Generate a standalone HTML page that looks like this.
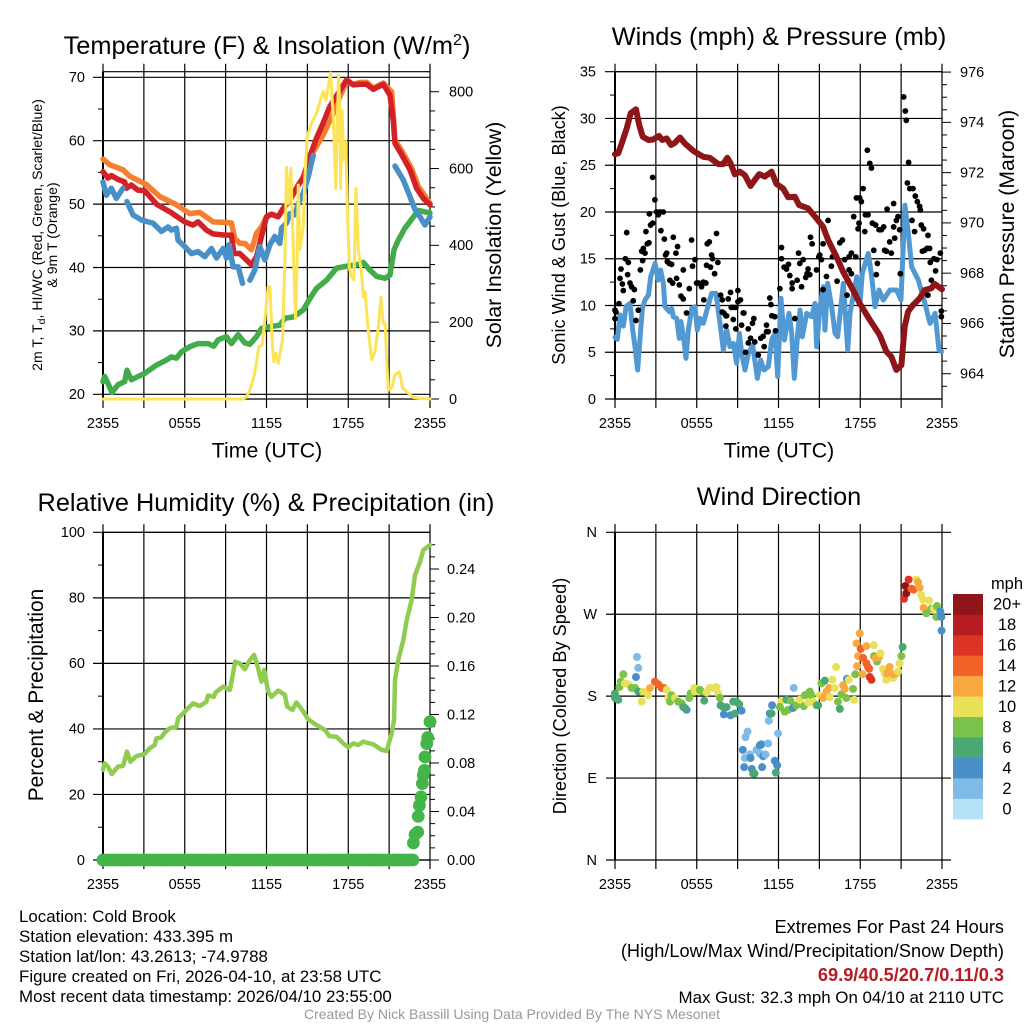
<!DOCTYPE html>
<html lang="en">
<head>
<meta charset="utf-8">
<title>Cold Brook Station Meteogram</title>
<style>
html,body{margin:0;padding:0;background:#fff;width:1024px;height:1024px;overflow:hidden}
svg{display:block;font-family:"Liberation Sans",Arial,sans-serif}
</style>
</head>
<body>
<svg id="chart" xmlns="http://www.w3.org/2000/svg" width="1024" height="1024" viewBox="0 0 1024 1024">
<rect width="1024" height="1024" fill="#fff"/>
<g id="marks"></g>

<text x="267" y="54" font-size="25.4" text-anchor="middle">Temperature (F) &amp; Insolation (W/m<tspan dy="-9" font-size="16">2</tspan><tspan dy="9">)</tspan></text>
<text x="779" y="45" font-size="25.3" text-anchor="middle">Winds (mph) &amp; Pressure (mb)</text>
<text x="266" y="511" font-size="25.3" text-anchor="middle">Relative Humidity (%) &amp; Precipitation (in)</text>
<text x="779" y="505" font-size="25.3" text-anchor="middle">Wind Direction</text>

<text x="267" y="457.5" font-size="21.3" text-anchor="middle">Time (UTC)</text>
<text x="779" y="457.5" font-size="21.3" text-anchor="middle">Time (UTC)</text>

<text transform="translate(42,235) rotate(-90)" font-size="14.1" text-anchor="middle">2m T, T<tspan dy="3" font-size="10.5">d</tspan><tspan dy="-3">, HI/WC (Red, Green, Scarlet/Blue)</tspan></text>
<text transform="translate(57,235) rotate(-90)" font-size="14.1" text-anchor="middle">&amp; 9m T (Orange)</text>
<text transform="translate(501,235) rotate(-90)" font-size="21.2" text-anchor="middle">Solar Insolation (Yellow)</text>
<text transform="translate(565,235) rotate(-90)" font-size="18.1" text-anchor="middle">Sonic Wind &amp; Gust (Blue, Black)</text>
<text transform="translate(1014,234) rotate(-90)" font-size="21.2" text-anchor="middle">Station Pressure (Maroon)</text>
<text transform="translate(43,695) rotate(-90)" font-size="20.9" text-anchor="middle">Percent &amp; Precipitation</text>
<text transform="translate(566,696) rotate(-90)" font-size="18.2" text-anchor="middle">Direction (Colored By Speed)</text>

<text x="1007" y="589" font-size="16.5" text-anchor="middle">mph</text>

<g font-size="16.9">
<text x="19" y="922">Location: Cold Brook</text>
<text x="19" y="942">Station elevation: 433.395 m</text>
<text x="19" y="962">Station lat/lon: 43.2613; -74.9788</text>
<text x="19" y="982">Figure created on Fri, 2026-04-10, at 23:58 UTC</text>
<text x="19" y="1002">Most recent data timestamp: 2026/04/10 23:55:00</text>
</g>
<g text-anchor="end">
<text x="1004" y="933" font-size="18.2">Extremes For Past 24 Hours</text>
<text x="1004" y="957" font-size="18.2">(High/Low/Max Wind/Precipitation/Snow Depth)</text>
<text x="1004" y="981" font-size="18.2" font-weight="bold" fill="#b71c22">69.9/40.5/20.7/0.11/0.3</text>
<text x="1004" y="1003" font-size="16.9">Max Gust: 32.3 mph On 04/10 at 2110 UTC</text>
</g>
<text x="512" y="1019" font-size="14" fill="#999" text-anchor="middle">Created By Nick Bassill Using Data Provided By The NYS Mesonet</text>
</svg>

<script>
// ---- Tick data ----
const timeTickHours = [0,3,6,9,12,15,18,21,24];
const timeTickLabels = ['2355','','0555','','1155','','1755','','2355'];
const tempTicks = [20,30,40,50,60,70];
const tempMinorTicks = [25,35,45,55,65];
const solarTicks = [0,200,400,600,800];
const solarMinorTicks = [50,100,150,250,300,350,450,500,550,650,700,750];
const windTicks = [0,5,10,15,20,25,30,35];
const windMinorTicks = [2.5,7.5,12.5,17.5,22.5,27.5,32.5];
const pressureTicks = [964,966,968,970,972,974,976];
const pressureMinorTicks = [963.5,964.5,965,965.5,966.5,967,967.5,968.5,969,969.5,970.5,971,971.5,972.5,973,973.5,974.5,975,975.5];
const rhTicks = [0,20,40,60,80,100];
const rhMinorTicks = [10,30,50,70,90];
const precipTicks = [0,0.04,0.08,0.12,0.16,0.2,0.24];
const precipMinorTicks = [0.01,0.02,0.03,0.05,0.06,0.07,0.09,0.1,0.11,0.13,0.14,0.15,0.17,0.18,0.19,0.21,0.22,0.23,0.25,0.26];
const dirTicks = [0,90,180,270,360];
const dirLabels = ['N','E','S','W','N'];
const speedLevels = ['0','2','4','6','8','10','12','14','16','18','20+'];
const speedColors = ['#b5e2f9','#7fbbe6','#4a90c8','#4aa874','#7ac24a','#e8e057','#f9a940','#f26329','#dc3325','#b71c22','#8f1518'];

// ---- Temperature panel ----
const orangeHours = [0,.49,1.47,1.96,3.18,4.16,5.39,6.37,7.1,8.08,9.06,9.43,9.67,10.04,10.41,10.9,11.27,11.63,12,12.37,12.86,13.22,13.72,14.33,14.7,15.18,15.67,16.16,16.9,17.39,17.88,18.37,18.86,19.35,19.84,20.57,21.19,21.43,22.04,22.65,23.14,24];
const orangeTemps = [57.1,56.2,55.4,54.4,53.1,51.2,49.9,48.5,48.7,47.2,47.1,47,44.6,43.8,43.8,42.8,45.4,46.4,48,48.4,48,49.3,50.6,53,54.3,57.2,59.1,60.9,64.3,67,69.3,68.9,69.2,69.2,68.3,69.1,67.7,60.1,58,55.6,52.8,50.1];
const redHours = [0,.37,.61,1.1,1.59,1.71,2.08,2.57,3.06,3.43,3.92,4.9,6,6.61,6.98,7.59,8.08,8.94,9.18,9.43,9.6,10.04,10.53,10.9,11.27,11.63,12,12.37,12.86,13.22,13.7,14.33,14.7,15.18,15.67,16.16,16.65,17.27,17.88,18.37,18.86,19.35,19.84,20.57,21.06,21.3,21.43,21.92,22.53,23.02,23.51,24];
const redTemps = [55.1,54.1,54.5,53.9,53.5,52.5,53,52.2,52.1,51.2,50,48.8,47.2,46.7,47.2,45.9,45.3,45.1,45.1,45.1,42.2,42.2,41.2,40.4,41.7,44.9,48,48.4,48,49.3,50.6,53,54.1,57.5,60.4,62.8,65.4,67.5,69.6,68.8,68.9,68.9,68.1,68.9,67.2,63.3,59.6,57.8,55.4,52.5,50.9,49.9];
const dewHours = [0,.12,.37,.66,1.1,1.59,1.76,2.08,2.57,3.06,3.92,4.65,5.02,5.39,5.76,6.37,6.98,7.71,8.13,8.45,9.06,9.43,9.92,10.41,10.78,11.27,11.63,12.37,12.98,13.35,13.96,14.7,15.18,15.67,16.41,17.14,17.88,18.61,19.1,19.59,20.08,20.7,21.06,21.36,21.67,22.16,22.9,23.14,24];
const dewTemps = [22,22.8,21.7,20.3,21.5,22,23.8,22.3,22.8,23.3,24.6,25.4,25.9,25.7,26.7,27.5,28,28,27.6,28.6,29.1,28,29.4,28.1,27.9,29.1,30.4,30.7,30.9,32,32.2,33.3,35.1,36.7,38,39.9,40.2,40.4,40.8,39.6,38.6,38.3,38.8,42.8,44.3,46.2,48.3,49,48.6];
const chillHours = [0,.25,.61,.98,1.47,null,1.76,2.2,2.82,3.31,3.67,4.29,4.78,5.02,5.39,5.51,6,6.49,6.98,7.47,7.96,8.33,8.82,9.06,9.26,9.55,9.92,10.24,null,10.78,11.14,11.51,11.88,12.25,12.61,12.98,13.1,13.47,13.72,14.08,14.33,14.7,15.06,15.43,null,21.43,22.04,22.53,22.9,23.27,23.63,24];
const chillTemps = [53.5,51.4,52.5,50.9,52.5,null,50.4,48.3,47.5,47.2,47,45.7,46.4,45.9,46.2,44.3,43.3,42.2,42.5,41.7,43,41.5,43,41.5,43.6,40.1,40.1,37.5,null,38,39.6,43.3,41.2,43.6,44.9,43.8,46.2,47,48.5,48.3,50.1,51.7,54.3,57.7,null,56,53.8,51.2,49.1,48,46.7,48];
const solarHours = [0,10.29,10.53,10.78,11.14,11.44,11.68,11.88,12.12,12.25,12.44,12.54,12.69,12.86,13.18,13.35,13.47,13.62,13.79,13.96,14.13,14.25,14.33,14.45,14.7,14.82,14.99,15.18,15.31,15.67,15.92,16.16,16.36,16.53,16.7,16.9,17.09,17.19,17.29,17.39,17.44,17.54,17.68,17.81,17.93,18.08,18.25,18.42,18.56,18.74,18.98,19.1,19.23,19.47,19.72,19.96,20.21,20.4,20.57,20.7,20.94,21.19,21.43,21.75,22,22.41,22.78,24];
const solarValues = [0,0,6,23,67,136,141,206,292,292,136,97,119,93,154,362,603,509,600,397,210,362,557,388,449,579,683,705,718,744,774,800,778,813,849,735,548,709,843,752,548,752,622,670,509,340,318,310,548,388,327,266,279,180,102,123,188,265,197,197,23,28,62,71,28,15,4,0];

// ---- Wind panel ----
const windHours = [0,.17,.37,.61,.81,1.1,1.3,1.47,1.66,1.79,2.01,2.2,2.45,2.62,2.94,3.18,3.35,3.55,3.67,3.99,4.16,4.28,4.53,4.72,4.84,5.06,5.21,5.38,5.63,5.87,6.04,6.24,6.48,6.85,7.09,7.41,7.71,7.95,8.2,8.44,8.69,8.93,9.13,9.3,9.54,9.79,10.1,10.45,10.69,10.94,11.25,11.5,11.74,11.94,12.18,12.43,12.77,12.97,13.16,13.41,13.58,13.75,14.07,14.43,14.68,14.8,15.05,15.29,15.41,15.61,15.9,16.15,16.34,16.76,17.08,17.25,17.74,17.98,18.15,18.59,18.84,19.08,19.38,19.69,20.18,20.67,20.99,21.28,21.53,21.77,22.26,22.75,23.12,23.49,23.78,23.97];
const windSpeeds = [6.6,6.38,8.98,7.8,9.87,10.22,7.37,5.59,3.1,5.59,9.69,10.58,11.12,13.07,14.5,12.72,13.79,12.36,9.87,9.33,9.69,8.8,8.62,6.48,8.27,6.31,4.35,7.37,9.69,9.87,7.37,8.62,8.09,10.05,11.29,11.29,8.09,5.24,7.37,5.59,5.95,3.81,7.02,4.88,3.1,4.88,5.77,2.21,4.17,3.1,3.46,6.31,7.02,2.39,10.76,6.31,9.16,7.02,2.21,7.02,9.51,6.66,9.16,8.8,10.22,5.59,9.87,12.01,7.37,12.36,9.87,7.02,6.66,12.36,5.24,9.16,13.07,10.22,13.43,15.57,13.07,9.87,11.65,10.58,11.65,11.65,10.58,20.73,17.71,14.14,12.72,10.22,8.09,9.16,5.24,5.06];
const gustHours = [0,.07,0,.29,.37,.44,.61,.54,.76,.98,.93,.86,1.1,1.22,1.42,1.34,1.54,1.71,1.86,2.03,1.96,2.08,2.2,2.27,2.37,2.49,2.52,2.61,2.76,2.76,2.93,3.05,3.18,3.3,3.54,3.37,3.62,3.71,3.79,3.84,3.98,4.15,4.28,4.03,4.23,4.47,4.59,4.52,4.72,4.84,5.01,5.01,5.25,5.45,5.62,5.69,5.87,5.99,6.13,6.35,6.48,6.67,6.52,6.72,6.77,6.92,7.01,7.09,7.16,7.31,7.45,7.55,7.75,7.87,7.87,7.99,8.14,8.19,8.14,8.31,8.48,8.53,8.68,8.87,8.68,8.87,9.02,9.02,9.21,9.41,9.46,9.29,9.78,10.09,10.19,9.95,9.78,10.26,9.58,10.51,10.7,10.87,10.95,11.12,11.24,11.12,11.36,11.44,11.51,11.73,11.78,12.1,12.22,12.22,12.41,12.59,12.73,12.83,13,13,13.2,13.37,13.47,13.56,13.69,13.81,14,14.1,14.17,14.3,14.35,14.47,14.79,14.96,15.03,15.15,15.27,15.27,15.52,15.64,15.96,15.88,16.3,16.5,16.69,16.86,17.03,17.18,17.35,17.18,17.35,17.67,17.52,17.72,17.91,17.84,17.96,18.21,18.08,18.33,18.38,18.57,18.52,18.7,18.82,18.89,19.13,18.99,19.18,19.26,19.38,19.55,19.72,19.79,19.92,19.97,20.16,20.28,20.45,20.45,20.53,20.65,20.77,20.89,20.94,21.19,21.31,21.38,21.55,21.46,21.63,21.87,22.04,22.19,22.36,22.41,21.8,21.99,22.48,22.65,22.97,22.56,22.73,22.9,23.09,23.14,23.41,23.63,23.88,23.53,23.22,22.97,23.95,23.95];
const gustSpeeds = [9.5,9.3,8.6,10.2,12.9,13.9,11.6,12.3,15,14.6,13.3,17.8,12.4,12,11.7,10.5,8.4,9.5,13.8,14.8,15.8,16.1,15.6,17.9,16.6,16.7,19.8,18.6,18.8,23.7,21.3,20,19.7,20,20,18,17.1,15.4,15.6,14.7,14.5,14.4,17.3,12.7,12.4,15.6,16.3,12.9,12.2,11,10.7,13.8,9.2,11.8,17,14.2,14.9,12.4,12.4,12,12.5,12.4,10.6,14.3,16.6,16.8,14.1,15.4,15,13.4,17.7,14.6,11.1,10.6,9.3,9.2,8.9,8.9,7.8,10.7,11.4,9.8,9.8,9.8,8.5,7.5,11.6,10.4,10.6,9.2,9.2,7.9,7.5,8.1,8.6,6.5,6,6.1,5,4.7,6.5,6.7,5.6,7.2,7.2,7.9,10.8,10.1,8.9,8.8,7.3,11.8,16.2,15,14.1,13.9,14.4,13.2,12.4,11.8,8.6,12.7,15.6,14.5,12,14.9,13,13.4,13.9,13.3,17.3,16.6,13.8,15.2,15.4,14.9,16.6,11.7,13.1,19.1,15.2,14.2,12.6,16.7,17,14.9,11.1,13.8,15.6,15.2,13.4,15.2,19.5,21.5,18.8,18.2,21.5,22.5,21.1,17.9,19.7,19.7,26.6,25.2,24.7,18.8,18.6,15.9,13.3,14.5,18.1,18.1,18.4,15.9,15.8,20.3,16.8,15.6,20.9,18.4,17.2,19.1,19.5,18.1,13.4,32.3,30.8,29.8,25.3,23.1,22.5,22.5,21.7,21.1,20.6,20.2,19.1,17.9,18.6,18.2,17.5,15.8,15.9,16.1,16.1,14.6,15,14.9,15.6,13.7,12.7,11.1,9.4,8.8];
const pressureHours = [0,.24,.49,.86,1.15,1.54,1.78,2.03,2.44,2.81,3.23,3.47,3.79,4.11,4.4,4.77,5.13,5.74,6.48,6.96,7.58,7.94,8.24,8.48,8.8,9.16,9.53,9.95,10.26,10.58,11,11.49,11.85,12.34,12.71,13.2,13.51,14.17,14.78,15.27,15.64,16.25,16.74,17.47,17.96,18.7,19.43,19.92,20.28,20.65,21.02,21.26,21.51,21.87,22.36,22.73,23.22,23.46,24];
const pressureValues = [972.73,972.77,973.16,973.76,974.36,974.52,973.89,973.43,973.3,973.32,973.46,973.3,973.36,973.1,973.19,973.4,973.16,972.87,972.63,972.59,972.34,972.34,972.59,972.37,971.93,972.04,971.9,971.47,971.71,971.94,971.84,972.04,971.55,971.37,971.02,971.04,970.71,970.58,970.18,969.85,969.32,968.66,968.06,967.33,966.8,966.14,965.54,964.88,964.68,964.15,964.34,965.87,966.47,966.73,967,967.33,967.4,967.57,967.36];

// ---- Humidity panel ----
const rhHours = [0,.12,.37,.64,1.1,1.47,1.76,2.01,2.45,3.06,3.43,3.8,3.92,4.29,4.53,4.9,5.39,5.51,6.12,6.61,7.1,7.59,7.71,8.13,8.28,8.82,9.31,9.5,9.7,10.04,10.41,10.78,11.09,11.39,11.63,11.83,12.12,12.37,12.86,13.35,13.52,13.91,14.2,14.7,15.06,15.67,16.29,16.61,17.14,17.63,18,18.37,18.74,19.1,19.84,20.45,20.82,21.19,21.36,21.43,21.67,22.04,22.29,22.65,22.9,23.27,23.51,24];
const rhValues = [27.5,29.5,28.5,26.2,28.5,28.7,33.1,30,31.7,32.4,34.1,35.1,37.1,37.4,38.9,40.2,40.7,43.2,45.8,47.8,47,48.3,50.2,49.8,51.2,52.9,51.9,56,60.5,60,58.2,61,62.6,58.5,54.4,58,51.4,49.8,51.7,50.4,46.8,45.8,48.1,45.3,42.9,41.2,39.7,37.8,37.6,35.6,34.4,35.6,35.1,36.1,35.3,33.6,33.3,38.7,42.7,54.9,61,67.1,73.2,79.3,86.9,91,94.6,96.1];
const precipHours = [0,.25,.5,.75,1,1.25,1.5,1.75,2,2.25,2.5,2.75,3,3.25,3.5,3.75,4,4.25,4.5,4.75,5,5.25,5.5,5.75,6,6.25,6.5,6.75,7,7.25,7.5,7.75,8,8.25,8.5,8.75,9,9.25,9.5,9.75,10,10.25,10.5,10.75,11,11.25,11.5,11.75,12,12.25,12.5,12.75,13,13.25,13.5,13.75,14,14.25,14.5,14.75,15,15.25,15.5,15.75,16,16.25,16.5,16.75,17,17.25,17.5,17.75,18,18.25,18.5,18.75,19,19.25,19.5,19.75,20,20.25,20.5,20.75,21,21.25,21.5,21.75,22,22.25,22.5,22.75,22.78,22.9,23.1,23.14,23.22,23.34,23.44,23.51,23.59,23.63,23.76,23.83,24];
const precipValues = [0,0,0,0,0,0,0,0,0,0,0,0,0,0,0,0,0,0,0,0,0,0,0,0,0,0,0,0,0,0,0,0,0,0,0,0,0,0,0,0,0,0,0,0,0,0,0,0,0,0,0,0,0,0,0,0,0,0,0,0,0,0,0,0,0,0,0,0,0,0,0,0,0,0,0,0,0,0,0,0,0,0,0,0,0,0,0,0,0,0,0,0,.014,.021,.023,.036,.045,.052,.063,.07,.074,.085,.096,.101,.114];

// ---- Wind direction panel ----
const dirHours = [0,0,.24,.32,.42,.61,.73,.98,1.22,1.47,1.71,1.54,1.71,1.61,1.96,2.08,2.44,2.57,2.93,3.18,3.42,3.59,3.79,3.91,4.03,4.15,4.4,4.64,4.89,5.01,5.25,5.13,5.45,5.55,5.82,5.87,6.23,6.35,6.55,6.72,6.96,7.21,7.45,7.58,7.7,7.75,7.94,7.99,8.19,8.48,8.68,8.92,8.8,9.12,9.29,9.73,9.58,9.38,9.53,9.9,9.95,10.39,10.63,10.75,11.24,10.63,10.87,11.05,9.48,10.04,10.14,10.24,10.8,11.73,11.9,11.8,11.97,11.29,11.36,11.53,11.49,12.22,12.1,12.46,12.71,12.59,12.88,13.07,13.32,13.56,13.86,13.93,14.17,14.3,14.42,14.17,14.54,14.78,14.91,15.03,15.27,15.15,15.4,13.12,15.52,15.71,15.76,15.96,16.13,16.23,16.37,16.5,16.62,16.74,16.86,16.98,17.03,17.16,17.47,17.55,17.64,17.96,17.72,18.04,17.84,18.21,18.45,17.77,18.16,18.45,18.57,18.65,18.7,18.82,18.99,19.01,19.23,19.13,19.38,19.48,19.67,19.79,19.92,19.97,20.16,20.41,20.41,20.65,20.77,20.89,21.02,21.11,21.21,21.31,21.38,21.55,21.75,21.92,22.12,22.24,22.36,22.48,22.61,22.65,22.85,23.05,23.22,23.41,23.58,23.63,23.88,23.95,23.97];
const dirDegrees = [183,178,176,190,196,204,194,193,189,189,185,201,211,223,174,185,181,189,196,193,189,189,187,178,174,181,178,174,172,168,165,167,178,183,189,185,187,185,175,184,189,189,190,183,178,170,168,160,168,159,174,174,161,171,164,141,135,121,112,116,112,121,126,127,128,117,114,116,102,100,95,95,102,109,104,96,139,153,161,170,161,175,168,163,165,176,175,167,170,176,169,181,183,185,181,173,174,170,170,181,178,194,197,189,185,189,179,198,189,212,174,166,182,192,188,178,199,198,188,176,204,249,238,232,224,222,235,213,204,216,212,210,201,198,236,224,218,222,223,227,210,205,198,205,212,200,204,205,207,216,224,234,287,301,293,308,298,297,308,305,299,291,286,277,271,285,276,276,267,279,273,267,252];
const dirSpeeds = [6,6,6,8,8,8,10,10,8,8,6,4,2,2,10,10,10,12,14,14,14,14,10,10,8,8,10,8,8,6,4,6,8,8,10,10,8,8,6,10,10,10,10,10,8,6,6,4,6,4,6,6,6,6,4,2,2,4,2,2,4,2,4,4,2,2,4,2,4,4,6,6,4,4,4,6,2,2,4,4,6,10,8,8,8,6,8,4,8,10,8,8,8,8,8,10,10,8,6,10,12,8,6,2,12,12,10,10,10,10,8,6,8,12,12,8,4,10,8,10,8,12,12,14,12,14,12,12,12,14,14,14,16,16,10,8,8,12,12,10,10,10,10,12,12,10,12,12,10,10,8,6,16,20,20,16,14,14,10,12,12,10,10,12,8,10,8,10,8,8,4,4,4];

// ---- Helpers ----
const NS = 'http://www.w3.org/2000/svg';
const marks = document.getElementById('marks');
function el(tag, attrs, text) {
  const n = document.createElementNS(NS, tag);
  for (const k in attrs) n.setAttribute(k, attrs[k]);
  if (text !== undefined) n.textContent = text;
  marks.appendChild(n);
  return n;
}
function linear(d0, d1, r0, r1) {
  return v => r0 + (v - d0) * (r1 - r0) / (d1 - d0);
}
function pathData(xs, ys, sx, sy) {
  let d = '', pen = false;
  for (let i = 0; i < xs.length; i++) {
    if (xs[i] === null || ys[i] === null) { pen = false; continue; }
    d += (pen ? 'L' : 'M') + sx(xs[i]).toFixed(2) + ' ' + sy(ys[i]).toFixed(2);
    pen = true;
  }
  return d;
}
function drawSeries(xs, ys, sx, sy, color, width, name) {
  const p = el('path', {d: pathData(xs, ys, sx, sy), fill: 'none', stroke: color, 'stroke-width': width, 'stroke-linejoin': 'round', 'stroke-linecap': 'round'});
  
  
}
function drawHLine(x0, x1, y, w) {
  const l = el('line', {x1: x0, x2: x1, y1: y, y2: y, stroke: '#000', 'stroke-width': w});
  
  
}
function drawTick(x0, x1, y) {
  const l = el('line', {x1: x0, x2: x1, y1: y, y2: y, stroke: '#000', 'stroke-width': 1});
  
  
}
function drawVLine(x, y0, y1, w) {
  const l = el('line', {x1: x, x2: x, y1: y0, y2: y1, stroke: '#000', 'stroke-width': w});
  
  
}
function drawLabel(x, y, s, anchor) {
  const t = el('text', {x: x, y: y + 0.8, 'font-size': 14.5, 'text-anchor': anchor, 'dominant-baseline': 'central'}, s);
  
  
}
function drawPanelFrame(sx, top, bottom, leftX, rightX) {
  timeTickHours.forEach((h, i) => {
    drawVLine(sx(h), top - 8, bottom + 9, 1.2);
    if (timeTickLabels[i]) drawLabel(sx(h), bottom + 24, timeTickLabels[i], 'middle');
  });
  drawVLine(leftX, top, bottom, 2);
  drawHLine(leftX, rightX, top, 1.2);
  drawHLine(leftX, rightX, bottom, 1.2);
}
function drawLeftAxis(ticks, minors, sy, leftX, rightX, labelX, fmt) {
  ticks.forEach(v => {
    drawHLine(leftX - 10, rightX, sy(v), 1.2);
    drawLabel(labelX, sy(v), fmt(v), 'end');
  });
  minors.forEach(v => drawTick(leftX - 5, leftX, sy(v)));
}
function drawRightAxis(ticks, minors, sy, rightX, labelX, fmt) {
  ticks.forEach(v => {
    drawTick(rightX, rightX + 9, sy(v));
    drawLabel(labelX, sy(v), fmt(v), 'start');
  });
  minors.forEach(v => drawTick(rightX, rightX + 5, sy(v)));
}
function drawDots(xs, ys, sx, sy, r, color, name) {
  for (let i = 0; i < xs.length; i++) {
    const c = el('circle', {cx: sx(xs[i]).toFixed(2), cy: sy(ys[i]).toFixed(2), r: r, fill: color});
    
    
  }
}

const str = v => String(v);

// ---- Panel 1: temperature & insolation ----
const x1 = linear(0, 24, 103, 430);
const yTemp = linear(20, 70, 394.3, 77.3);
const ySolar = linear(0, 800, 399, 91.7);
drawPanelFrame(x1, 71.7, 399, 103, 430);
drawLeftAxis(tempTicks, tempMinorTicks, yTemp, 103, 430, 85, str);
drawRightAxis(solarTicks, solarMinorTicks, ySolar, 430, 449, str);
drawSeries(orangeHours, orangeTemps, x1, yTemp, '#f57f2f', 5.5, 'nine-meter-temperature-line');
drawSeries(redHours, redTemps, x1, yTemp, '#d42027', 5.5, 'two-meter-temperature-line');
drawSeries(dewHours, dewTemps, x1, yTemp, '#41ac49', 5.5, 'dew-point-line');
drawSeries(chillHours, chillTemps, x1, yTemp, '#4a90c8', 5.5, 'heat-index-wind-chill-line');
drawSeries(solarHours, solarValues, x1, ySolar, '#fde456', 3, 'solar-insolation-line');

// ---- Panel 2: winds & pressure ----
const x2 = linear(0, 24, 615, 942);
const yWind = linear(0, 35, 399, 71.7);
const yPress = linear(964, 976, 373.7, 72.1);
drawPanelFrame(x2, 71.7, 399, 615, 942);
drawLeftAxis(windTicks, windMinorTicks, yWind, 615, 942, 596, str);
drawRightAxis(pressureTicks, pressureMinorTicks, yPress, 942, 960, str);
drawSeries(windHours, windSpeeds, x2, yWind, '#5299d3', 5, 'sonic-wind-line');
drawDots(gustHours, gustSpeeds, x2, yWind, 2.9, '#000', 'wind-gust-point');
drawSeries(pressureHours, pressureValues, x2, yPress, '#8e1518', 6, 'station-pressure-line');

// ---- Panel 3: humidity & precipitation ----
const x3 = x1;
const yRh = linear(0, 100, 860, 532.3);
const yPrecip = linear(0, 0.24, 860, 569);
drawPanelFrame(x3, 532.3, 860, 103, 430);
drawLeftAxis(rhTicks, rhMinorTicks, yRh, 103, 430, 85, str);
drawRightAxis(precipTicks, precipMinorTicks, yPrecip, 430, 447, v => v.toFixed(2));
drawSeries(rhHours, rhValues, x3, yRh, '#8fcc4f', 4.5, 'relative-humidity-line');
drawDots(precipHours, precipValues, x3, yPrecip, 6.4, '#43b549', 'precipitation-point');

// ---- Panel 4: wind direction ----
const x4 = x2;
const yDir = linear(0, 360, 860, 532.3);
timeTickHours.forEach((h, i) => {
  drawVLine(x4(h), 524, 869, 1.2);
  if (timeTickLabels[i]) drawLabel(x4(h), 884, timeTickLabels[i], 'middle');
});
drawVLine(615, 532.3, 860, 2);
dirTicks.forEach((d, i) => {
  drawHLine(606, 951, yDir(d), 1.2);
  drawLabel(597, yDir(d), dirLabels[i], 'end');
});
for (let i = 0; i < dirHours.length; i++) {
  const c = el('circle', {cx: x4(dirHours[i]).toFixed(2), cy: yDir(dirDegrees[i]).toFixed(2), r: 4, fill: speedColors[Math.min(10, Math.floor(dirSpeeds[i] / 2))]});
  
  
}

// ---- Colorbar ----
const boxH = 225 / speedLevels.length;
speedLevels.forEach((lab, i) => {
  const top = 819 - (i + 1) * boxH;
  const r = el('rect', {x: 953, y: top.toFixed(2), width: 30, height: (boxH + 0.3).toFixed(2), fill: speedColors[i]});
  
  
  const t = el('text', {x: 1007, y: (top + boxH / 2 + 0.5).toFixed(2), 'font-size': 16.5, 'text-anchor': 'middle', 'dominant-baseline': 'central'}, lab);
  
  
});
</script>
</body>
</html>
